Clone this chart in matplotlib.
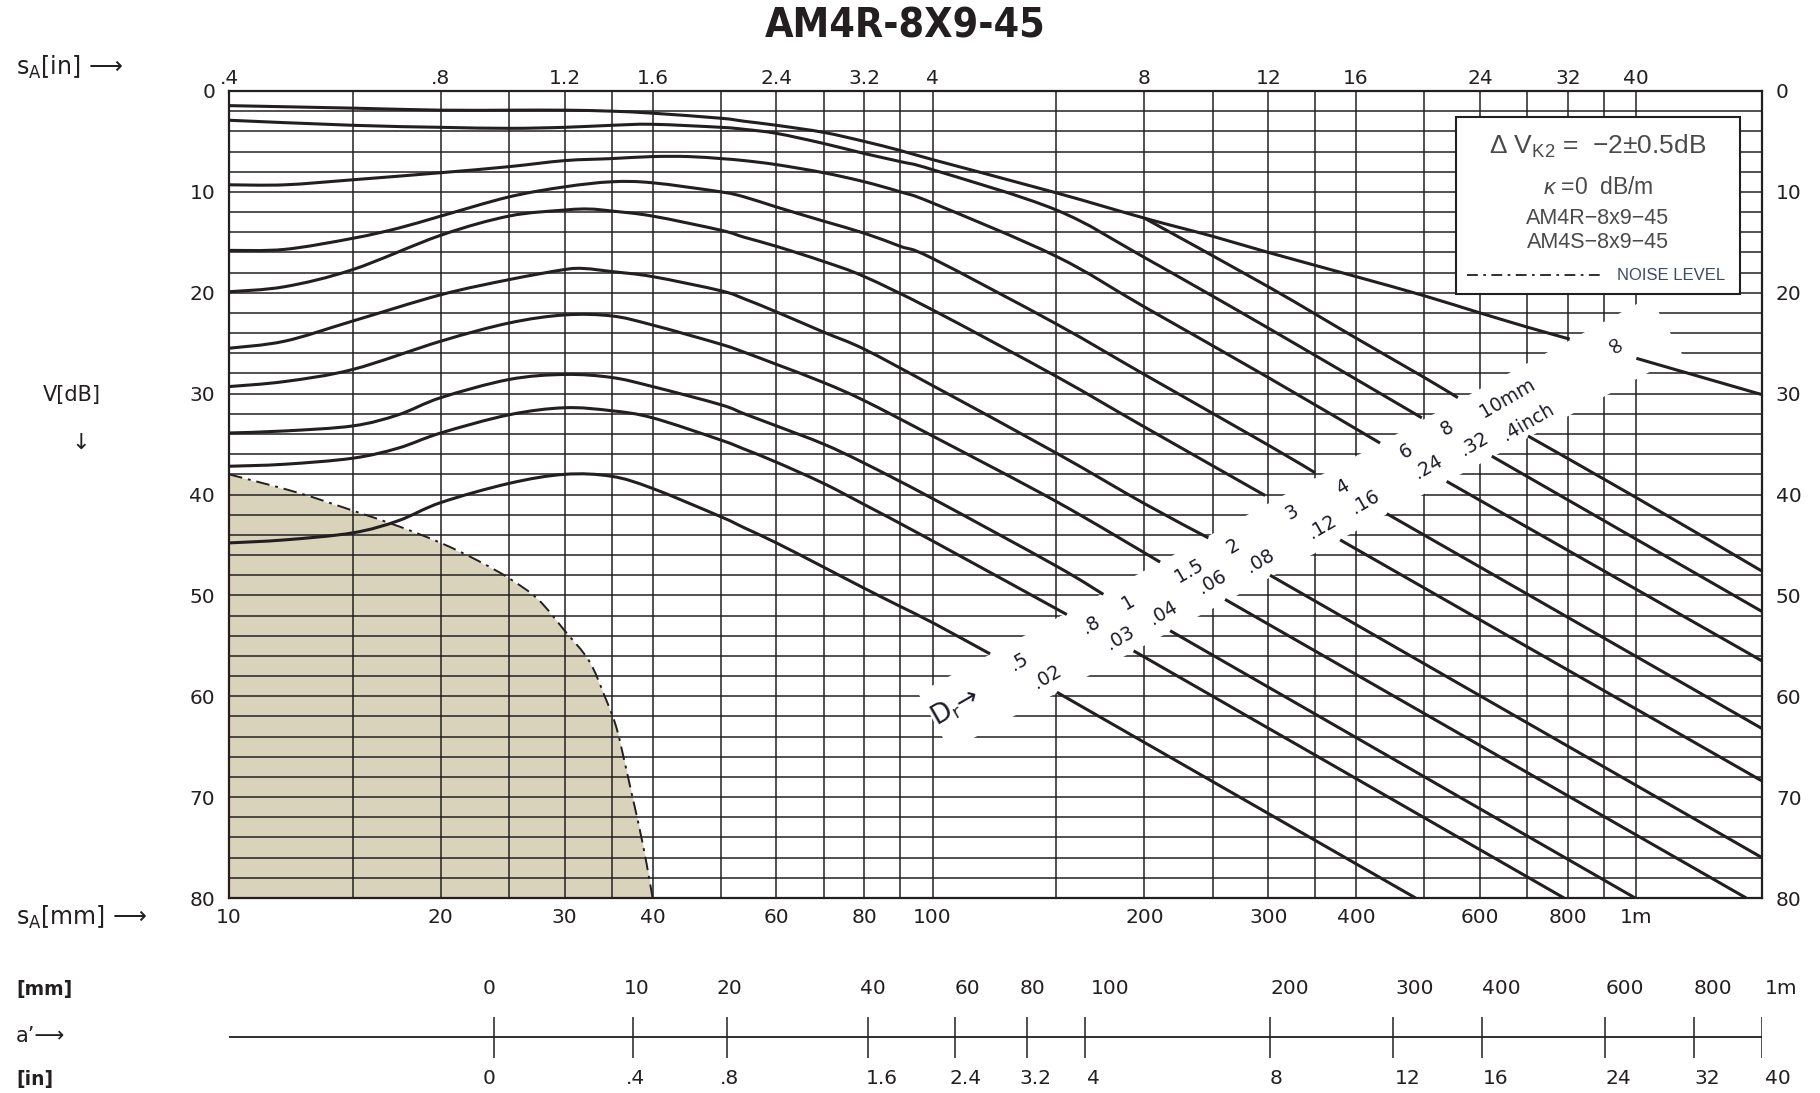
import matplotlib
matplotlib.use("Agg")
import numpy as np
import matplotlib.pyplot as plt
from matplotlib import font_manager as fm
from matplotlib.patches import Polygon, Rectangle, PathPatch
from matplotlib.path import Path
from matplotlib.ticker import NullLocator

installed = {f.name for f in fm.fontManager.ttflist}
SANS = "DejaVu Sans"
KEYFONT = "Liberation Sans" if "Liberation Sans" in installed else "DejaVu Sans"


def condensed_bold():
    """Pick a narrow/condensed bold face if one is installed."""
    for f in fm.fontManager.ttflist:
        name = f.name.lower()
        narrow = ("narrow" in name or "condensed" in name
                  or str(f.stretch) in ("condensed", "semi-condensed", "extra-condensed"))
        bold = f.weight in ("bold", 700, "heavy", 800) or "bold" in str(f.fname).lower()
        if narrow and bold:
            return fm.FontProperties(fname=f.fname), True
    return fm.FontProperties(family=KEYFONT, weight="bold"), False


plt.rcParams["font.family"] = [SANS]
plt.rcParams["mathtext.fontset"] = "custom"
plt.rcParams["mathtext.rm"] = KEYFONT
plt.rcParams["mathtext.it"] = KEYFONT + ":italic"
plt.rcParams["mathtext.bf"] = KEYFONT + ":bold"

INK = "#231f20"
NOISE_FILL = "#d9d3bc"
LABEL_INK = "#1c1c2a"

# ---------------------------------------------------------------- axes data
x_ticks_mm = [10, 20, 30, 40, 60, 80, 100, 200, 300, 400, 600, 800, 1000]
x_tick_labels = ["10", "20", "30", "40", "60", "80", "100", "200", "300",
                 "400", "600", "800", "1m"]
top_tick_labels = [".4", ".8", "1.2", "1.6", "2.4", "3.2", "4", "8", "12",
                   "16", "24", "32", "40"]
y_ticks_db = [0, 10, 20, 30, 40, 50, 60, 70, 80]
grid_mm = [15, 20, 25, 30, 35, 40, 50, 60, 70, 80, 90, 100, 150, 200, 250,
           300, 350, 400, 500, 600, 700, 800, 900, 1000]
grid_db = list(range(2, 80, 2))

# ---------------------------------------------------------------- DGS curves
# back wall (D = infinity)
inf_mm = [10, 15, 20, 25, 30, 35, 40, 50, 54, 60, 70, 80, 90, 100, 150, 200,
          250, 300, 400, 500, 600, 700, 805]
inf_db = [1.45, 1.7, 1.9, 1.9, 1.9, 2.0, 2.2, 2.7, 3.0, 3.4, 4.1, 5.0, 5.9,
          6.8, 10.1, 12.6, 14.4, 16.0, 18.4, 20.3, 22.0, 23.4, 24.6]
inf_far_mm = [1001, 1510]
inf_far_db = [26.5, 30.1]

# D = 10 mm (leaves the back-wall curve near 200 mm)
d10_mm = [200, 300, 400, 500, 558]
d10_db = [12.6, 19.4, 24.5, 28.4, 30.4]
d10_far_mm = [702, 1000, 1510]
d10_far_db = [34.2, 40.3, 47.6]

# D = 8 mm
d8_mm = [10, 15, 20, 25, 30, 35, 40, 50, 54, 60, 70, 80, 90, 100, 150, 200,
         300, 496]
d8_db = [2.9, 3.4, 3.6, 3.7, 3.6, 3.4, 3.3, 3.6, 3.8, 4.2, 5.2, 6.2, 7.0,
         7.8, 11.8, 16.5, 23.5, 32.4]
d8_far_mm = [623.6, 1510]
d8_far_db = [36.2, 51.6]

# D = 6 mm
d6_mm = [10, 12, 15, 20, 25, 30, 35, 40, 45, 50, 54, 60, 70, 80, 90, 100,
         150, 200, 300, 432.6]
d6_db = [9.3, 9.3, 8.8, 8.1, 7.5, 6.9, 6.7, 6.5, 6.5, 6.7, 6.9, 7.3, 8.1,
         9.0, 10.0, 11.1, 16.4, 21.4, 28.4, 34.9]
d6_far_mm = [538, 1510]
d6_far_db = [38.7, 56.5]

# D = 4 mm
d4_mm = [10, 12, 15, 17.4, 20, 25, 30, 35, 40, 50, 54, 60, 70, 80, 90, 100,
         150, 200, 300, 349.8]
d4_db = [15.8, 15.7, 14.6, 13.6, 12.4, 10.5, 9.5, 9.0, 9.1, 10.0, 10.5, 11.5,
         12.9, 14.1, 15.4, 16.6, 23.1, 28.1, 35.1, 37.85]
d4_far_mm = [442.2, 1510]
d4_far_db = [41.9, 63.2]

# D = 3 mm
d3_mm = [10, 12, 15, 20, 25, 30, 32.5, 35, 40, 50, 54, 60, 70, 80, 100, 150,
         200, 297]
d3_db = [19.9, 19.4, 17.7, 14.3, 12.4, 11.8, 11.7, 11.9, 12.4, 13.8, 14.5,
         15.4, 16.9, 18.4, 21.7, 28.3, 33.3, 40.1]
d3_far_mm = [379.6, 1510]
d3_far_db = [44.5, 68.4]

# D = 2 mm
d2_mm = [10, 12, 15, 20, 25, 30, 32, 35, 40, 50, 54, 60, 70, 80, 100, 150,
         200, 246.6]
d2_db = [25.5, 24.8, 22.8, 20.2, 18.7, 17.7, 17.6, 17.9, 18.4, 19.8, 20.6,
         21.9, 23.9, 25.6, 29.2, 35.9, 40.9, 44.3]
d2_far_mm = [301.8, 1510]
d2_far_db = [48.0, 76.0]

# D = 1.5 mm
d15_mm = [10, 12, 15, 20, 25, 30, 35, 40, 50, 54, 60, 70, 80, 100, 150,
          210.6]
d15_db = [29.3, 28.8, 27.6, 24.8, 23.0, 22.2, 22.3, 23.2, 25.1, 25.9, 27.1,
          28.9, 30.7, 34.2, 40.7, 46.7]
d15_far_mm = [260.5, 1434]
d15_far_db = [50.4, 80.0]

# D = 1 mm
d1_mm = [10, 12, 15, 17.4, 20, 25, 30, 35, 40, 50, 54, 60, 70, 80, 100, 150,
         174.9]
d1_db = [33.9, 33.7, 33.2, 32.1, 30.4, 28.6, 28.1, 28.4, 29.3, 31.1, 32.0,
         33.2, 35.0, 36.9, 40.4, 47.1, 49.9]
d1_far_mm = [217.6, 997]
d1_far_db = [53.5, 80.0]

# D = 0.8 mm
d08_mm = [10, 12, 15, 17.4, 20, 25, 30, 35, 40, 50, 54, 60, 70, 80, 100,
          155.2]
d08_db = [37.2, 37.0, 36.4, 35.4, 33.9, 32.1, 31.4, 31.7, 32.4, 34.6, 35.5,
          36.8, 38.9, 41.0, 44.6, 51.9]
d08_far_mm = [193.1, 790]
d08_far_db = [55.5, 80.0]

# D = 0.5 mm
d05_mm = [10, 12, 15, 17.4, 20, 25, 30, 35, 40, 50, 54, 60, 70, 80, 90, 100,
          120.7]
d05_db = [44.8, 44.5, 43.8, 42.6, 40.8, 38.9, 38.0, 38.2, 39.4, 42.2, 43.3,
          44.8, 47.2, 49.3, 51.1, 52.7, 55.8]
d05_far_mm = [150.2, 486]
d05_far_db = [59.6, 80.0]

# noise level boundary
noise_mm = [10, 12.5, 15, 17.5, 20, 22.5, 25, 27.5, 30, 32.5, 34.2, 35.5,
            36.5, 37.4, 38.3, 39.2, 40]
noise_db = [38.0, 39.8, 41.6, 43.2, 44.8, 46.5, 48.3, 50.4, 53.5, 56.5, 60.0,
            63.0, 66.5, 69.8, 73.0, 76.5, 80.0]

# a' scale: tick values and the s_A (mm) position each one sits at
a_prime_mm_labels = ["0", "10", "20", "40", "60", "80", "100", "200", "300",
                     "400", "600", "800", "1m"]
a_prime_in_labels = ["0", ".4", ".8", "1.6", "2.4", "3.2", "4", "8", "12",
                     "16", "24", "32", "40"]
a_prime_at_sA = [23.8, 37.5, 51.1, 80.9, 107.5, 136.4, 164.9, 301.5, 452,
                 603, 904, 1208, 1510]

# reflector-size labels in the diagonal strip: (text, s_A mm, V dB)
band_mm_labels = [(".5", 132.5, 56.6), (".8", 167.8, 52.9), ("1", 189.7, 50.7),
                  ("1.5", 231.9, 47.6), ("2", 267.3, 45.1), ("3", 324.5, 41.8),
                  ("4", 382, 39.3), ("6", 471.8, 35.7), ("8", 538.5, 33.4),
                  ("10mm", 657, 30.4)]
band_in_labels = [(".02", 145.5, 58.1), (".03", 184.6, 54.2), (".04", 212.8, 51.7),
                  (".06", 250, 48.7), (".08", 292, 46.6), (".12", 358, 43.2),
                  (".16", 412, 40.7), (".24", 506, 37.3), (".32", 589, 35.0),
                  (".4inch", 702, 32.8)]

# horizontal nudges (px) of the a' labels relative to their tick
a_mm_nudge = [-5, 4, 2, 5, 13, 5, 25, 20, 21, 20, 20, 19, 19]
a_in_nudge = [-5, 3, 2, 14, 11, 8, 8, 6, 14, 14, 13, 13, 16]

# ---------------------------------------------------------------- figure
W, H = 1820, 1093
fig = plt.figure(figsize=(W / 100, H / 100), dpi=100)


def fx(px):
    return px / W


def fy(py):
    return 1 - py / H


def smooth_path(xs, ys):
    """Cubic path through the points (Catmull-Rom in log-x / dB space)."""
    pts = np.column_stack([np.log10(xs), np.asarray(ys, float)])
    n = len(pts)
    verts = [pts[0]]
    codes = [Path.MOVETO]
    for i in range(n - 1):
        p0 = pts[i - 1] if i > 0 else pts[i]
        p1, p2 = pts[i], pts[i + 1]
        p3 = pts[i + 2] if i + 2 < n else pts[i + 1]
        verts += [p1 + (p2 - p0) / 6.0, p2 - (p3 - p1) / 6.0, p2]
        codes += [Path.CURVE4] * 3
    verts = np.array(verts)
    verts[:, 0] = 10 ** verts[:, 0]
    return Path(verts, codes)


ax = fig.add_axes([fx(229), fy(898), (1762 - 229) / W, (898 - 91) / H])
ax.set_xscale("log")
ax.set_xlim(10, 1510)
ax.set_ylim(80, 0)
ax.xaxis.set_minor_locator(NullLocator())
ax.set_xticks(x_ticks_mm, labels=x_tick_labels)
ax.set_yticks(y_ticks_db)
ax.tick_params(axis="both", length=0, labelsize=14.5, colors=INK)
ax.tick_params(axis="x", pad=7)
ax.tick_params(axis="y", labelleft=True, labelright=True, pad=10)
for sp in ax.spines.values():
    sp.set_color(INK)
    sp.set_linewidth(1.6)

top = ax.twiny()
top.set_xscale("log")
top.set_xlim(ax.get_xlim())
top.xaxis.set_minor_locator(NullLocator())
top.set_xticks(x_ticks_mm, labels=top_tick_labels)
top.tick_params(axis="x", length=0, labelsize=14.5, colors=INK, pad=2)
for sp in top.spines.values():
    sp.set_visible(False)

# noise region
ax.fill_between(noise_mm, noise_db, 80, color=NOISE_FILL, lw=0, zorder=1)

# grid
ax.vlines(grid_mm, 0, 80, colors=INK, lw=1.1, zorder=2)
ax.hlines(grid_db, 10, 1510, colors=INK, lw=1.1, zorder=2)

ax.add_patch(PathPatch(smooth_path(noise_mm, noise_db), fill=False, ec=INK,
                       lw=1.4, ls=(0, (7, 3, 1.5, 3)), zorder=3))

# white strip carrying the reflector-size labels
ax.add_patch(Polygon([(95.4, 59.7), (1047, 20.4), (1163, 26.1), (105.9, 65.4)],
                     closed=True, fc="white", ec="none", zorder=2.5))

curve_parts = [
    (inf_mm, inf_db), (inf_far_mm, inf_far_db),
    (d10_mm, d10_db), (d10_far_mm, d10_far_db),
    (d8_mm, d8_db), (d8_far_mm, d8_far_db),
    (d6_mm, d6_db), (d6_far_mm, d6_far_db),
    (d4_mm, d4_db), (d4_far_mm, d4_far_db),
    (d3_mm, d3_db), (d3_far_mm, d3_far_db),
    (d2_mm, d2_db), (d2_far_mm, d2_far_db),
    (d15_mm, d15_db), (d15_far_mm, d15_far_db),
    (d1_mm, d1_db), (d1_far_mm, d1_far_db),
    (d08_mm, d08_db), (d08_far_mm, d08_far_db),
    (d05_mm, d05_db), (d05_far_mm, d05_far_db),
]
for xs, ys in curve_parts:
    ax.add_patch(PathPatch(smooth_path(xs, ys), fill=False, ec=INK, lw=2.2,
                           capstyle="butt", joinstyle="round", zorder=3))

ROT = 30
for txt, xm, yd in band_mm_labels + band_in_labels:
    ax.text(xm, yd, txt, rotation=ROT, rotation_mode="anchor", ha="center",
            va="center", fontsize=13.5, color=LABEL_INK, zorder=4)
ax.text(107.6, 61.0, r"D$_\mathregular{r}$→", rotation=ROT,
        rotation_mode="anchor", ha="center", va="center", fontsize=19,
        color=LABEL_INK, zorder=4, math_fontfamily="dejavusans")
ax.text(926, 25.4, "∞", rotation=-55, rotation_mode="anchor",
        ha="center", va="center", fontsize=17, color=LABEL_INK, zorder=4)

# key box
bx0, by0 = (1455.7 - 229) / 1533, (898 - 294.3) / 807
bx1, by1 = (1740 - 229) / 1533, (898 - 117.3) / 807
ax.add_patch(Rectangle((bx0, by0), bx1 - bx0, by1 - by0, transform=ax.transAxes,
                       fc="white", ec=INK, lw=1.5, zorder=5))
KEY = "#4a4a4a"
cx = (1598 - 229) / 1533
ax.text(cx, (898 - 146) / 807, r"$\mathit{\Delta}$ V$_{\mathregular{K2}}$ =  −2±0.5dB",
        transform=ax.transAxes, ha="center", va="center", fontsize=19,
        color=KEY, zorder=6, family=KEYFONT)
ax.text(cx, (898 - 188) / 807, r"$\mathit{\kappa}$ =0  dB/m",
        transform=ax.transAxes, ha="center", va="center", fontsize=16.5,
        color=KEY, zorder=6, family=KEYFONT)
ax.text(cx, (898 - 219) / 807, "AM4R−8x9−45", transform=ax.transAxes,
        ha="center", va="center", fontsize=15.5, color=KEY, zorder=6,
        family=KEYFONT)
ax.text(cx, (898 - 242) / 807, "AM4S−8x9−45", transform=ax.transAxes,
        ha="center", va="center", fontsize=15.5, color=KEY, zorder=6,
        family=KEYFONT)
ax.plot([(1466.7 - 229) / 1533, (1605 - 229) / 1533], [(898 - 275) / 807] * 2,
        transform=ax.transAxes, color=INK, lw=1.3, ls=(0, (6, 3, 1.5, 3)),
        zorder=6)
ax.text((1616.7 - 229) / 1533, (898 - 275) / 807, "NOISE LEVEL",
        transform=ax.transAxes, ha="left", va="center", fontsize=12,
        color="#3b4a6b", zorder=6, family=KEYFONT)

# a' scale
ax_a = fig.add_axes([fx(229), 0, (1762 - 229) / W, 133 / H])
ax_a.set_xscale("log")
ax_a.set_xlim(10, 1510)
ax_a.set_ylim(1093, 960)
ax_a.axis("off")
ax_a.hlines(1036.5, 10, 1510, colors=INK, lw=1.3)
ax_a.vlines(a_prime_at_sA, 1017, 1058, colors=INK, lw=1.1)
for pos, lm, li, dm, di in zip(a_prime_at_sA, a_prime_mm_labels,
                               a_prime_in_labels, a_mm_nudge, a_in_nudge):
    ax_a.annotate(lm, (pos, 989), xytext=(dm / 1.389, 0),
                  textcoords="offset points", ha="center", va="center",
                  fontsize=14.5, color=INK, annotation_clip=False)
    ax_a.annotate(li, (pos, 1079), xytext=(di / 1.389, 0),
                  textcoords="offset points", ha="center", va="center",
                  fontsize=14.5, color=INK, annotation_clip=False)

# side captions
fig.text(fx(16), fy(67), r"s$_\mathregular{A}$[in] ⟶", ha="left", va="center",
         fontsize=17, color=INK, math_fontfamily="dejavusans")
fig.text(fx(72), fy(395), "V[dB]", ha="center", va="center", fontsize=15,
         color=INK)
fig.text(fx(81), fy(443), "↓", ha="center", va="center", fontsize=16,
         color=INK)
fig.text(fx(16), fy(917), r"s$_\mathregular{A}$[mm] ⟶", ha="left",
         va="center", fontsize=17, color=INK, math_fontfamily="dejavusans")
fig.text(fx(16), fy(989), "[mm]", ha="left", va="center", fontsize=13.5,
         fontweight="bold", color=INK)
fig.text(fx(16), fy(1036), "a’⟶", ha="left", va="center", fontsize=15,
         color=INK)
fig.text(fx(16), fy(1079), "[in]", ha="left", va="center", fontsize=13.5,
         fontweight="bold", color=INK)

title_fp, is_narrow = condensed_bold()
title_fp.set_size(29.5 if is_narrow else 28)
fig.text(0.4975, fy(26), "AM4R-8X9-45", ha="center", va="center",
         fontproperties=title_fp, color=INK)

fig.savefig("out.png", dpi=100, facecolor="white")
